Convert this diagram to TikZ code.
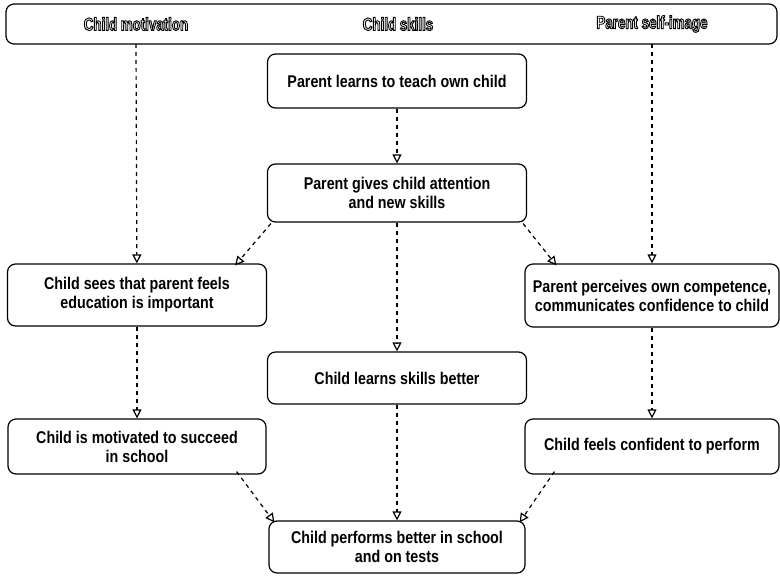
\documentclass[tikz,border=0pt]{standalone}
\usepackage{fontspec}
\setmainfont{Liberation Sans}[FakeStretch=0.84,BoldFont={Liberation Sans Bold},BoldFeatures={FakeStretch=0.84}]
\newfontfamily\hdrfont{Liberation Sans Bold}[FakeStretch=0.74]
\usetikzlibrary{arrows.meta}
\usetikzlibrary{positioning}
\tikzstyle{step box} = [rectangle, rounded corners=8pt, draw=black, line width=1.2pt, align=center, minimum width=259pt, font=\fontsize{17}{19}\selectfont\bfseries]
\tikzstyle{flow} = [line width=1.2pt, dash pattern=on 4pt off 4pt, -{Triangle[open,length=9pt,width=9pt]}]
\tikzstyle{heading} = [font=\fontsize{18}{20}\hdrfont]
% hollow lettering for the column titles
\newcommand{\hdr}[1]{\special{pdf:literal direct 1 g 0 G 2 Tr 0.9 w}#1\special{pdf:literal direct 0 Tr 0 g}}

\begin{document}
\begin{tikzpicture}[x=1pt, y=-1pt]
\useasboundingbox (0,0) rectangle (780,576);

% header bar
\node (bar) [rectangle, rounded corners=8pt, draw=black, line width=1.2pt, minimum width=771pt, minimum height=40pt] at (391.5,24) {};
\node (mot) [heading] at (136,24) {\hdr{Child motivation}};
\node (skl) [heading] at (398,24) {\hdr{Child skills}};
\node (img) [heading] at (652,24) {\hdr{Parent self-image}};
\coordinate (motfoot) at (136,44);
\coordinate (imgfoot) at (652,44);

% middle column
\node (teach) [step box, minimum height=54pt] at (397,81) {Parent learns to teach own child};
\node (gives) [step box, minimum height=58pt] at (397,193) {Parent gives child attention\\and new skills};
\node (learns) [step box, minimum height=52pt] at (397,378) {Child learns skills better};
\node (performs) [step box, minimum width=256pt, minimum height=52pt] at (397,547) {Child performs better in school\\and on tests};

% left column
\node (sees) [step box, minimum height=62pt] at (137,295) {Child sees that parent feels\\education is important};
\node (motivated) [step box, minimum width=258pt, minimum height=55pt] at (137,446.5) {Child is motivated to succeed\\in school};

% right column
\node (perceives) [step box, minimum width=254pt, minimum height=63pt] at (652,295.5) {Parent perceives own competence,\\communicates confidence to child};
\node (confident) [step box, minimum width=254pt, minimum height=55pt] at (652,446.5) {Child feels confident to perform};

% connectors
\draw[flow] (motfoot) -- (sees);
\draw[flow] (imgfoot) -- (perceives);
\draw[flow] (teach) -- (gives);
\draw[flow] (gives) -- (learns);
\draw[flow] ([xshift=4pt,yshift=-1pt]gives.south west) -- ([xshift=-32pt,yshift=-2pt]sees.north east);
\draw[flow] ([xshift=-4pt,yshift=-1pt]gives.south east) -- ([xshift=32pt,yshift=-2pt]perceives.north west);
\draw[flow] (sees) -- (motivated);
\draw[flow] (perceives) -- (confident);
\draw[flow] (learns) -- (performs);
\draw[flow] ([xshift=-30pt,yshift=3pt]motivated.south east) -- ([xshift=6pt,yshift=-2pt]performs.north west);
\draw[flow] ([xshift=30pt,yshift=3pt]confident.south west) -- ([xshift=-6pt,yshift=-2pt]performs.north east);
\end{tikzpicture}
\end{document}
